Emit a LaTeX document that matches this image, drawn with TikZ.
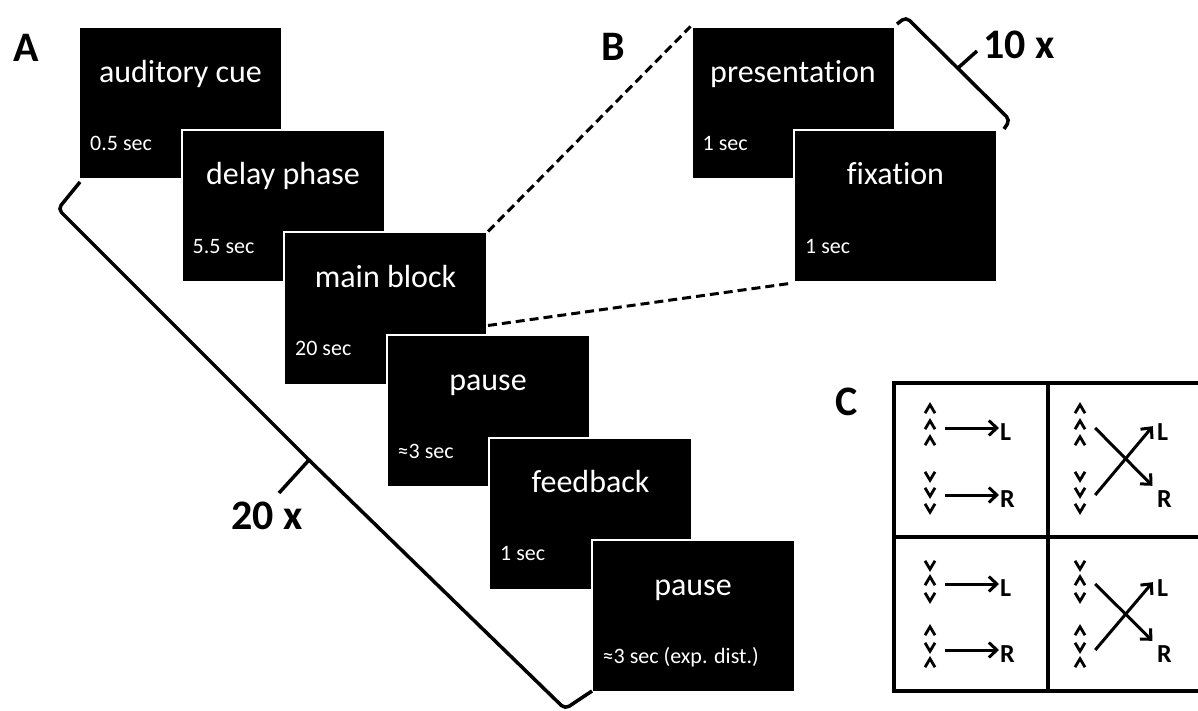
\documentclass[tikz,border=0pt]{standalone}
\usepackage{fontspec}
\setmainfont[Ligatures=NoCommon]{Carlito}
\usetikzlibrary{arrows.meta,positioning,calc}

\tikzset{
  screen/.style={fill=black, draw=white, line width=2pt, minimum width=203pt, minimum height=152pt, inner sep=0pt},
  title/.style={text=white, font=\fontsize{32}{38}\selectfont, anchor=base, inner sep=0pt},
  dur/.style={text=white, font=\fontsize{22}{26}\selectfont, anchor=base west, inner sep=0pt},
  panel/.style={font=\fontsize{42}{50}\selectfont\bfseries, inner sep=0pt},
  resp/.style={font=\fontsize{26}{30}\selectfont\bfseries, inner sep=1pt, anchor=west},
  stack/.style={minimum width=30pt, minimum height=44pt, inner sep=0pt},
  chevline/.style={line width=2.8pt},
  chev/.pic={\draw[chevline] (-5,{4.2*(#1)}) -- (0,{-4.2*(#1)}) -- (5,{4.2*(#1)});},
  link/.style={line width=3pt, -{Straight Barb[length=8pt,width=15pt]}},
  zoomline/.style={line width=3pt, dash pattern=on 9pt off 5pt},
  bracket/.style={line width=3.5pt, rounded corners=5pt},
  cellline/.style={line width=3.5pt}
}

\begin{document}
\begin{tikzpicture}[x=1pt, y=-1pt]
  \useasboundingbox (0,0) rectangle (1198,711);

  \foreach \nm/\ttl/\dur [count=\i from 0] in {cue/auditory cue/0.5 sec, delay/delay phase/5.5 sec, main/main block/20 sec, pausea/pause/≈3 sec, feedback/feedback/1 sec, pauseb/pause/≈3 sec (exp. dist.)} {
    \node[screen] (\nm) at (180.5+102.5*\i, 103.5+102.5*\i) {};
    \node[title] (\nm-t) at ($(\nm.north)+(0,56)$) {\ttl};
    \node[dur] (\nm-d) at ($(\nm.south west)+(12,-30)$) {\dur};
  }

  \foreach \nm/\ttl [count=\i from 0] in {pres/presentation, fix/fixation} {
    \node[screen] (\nm) at (793+102.5*\i, 103.5+102.5*\i) {};
    \node[title] (\nm-t) at ($(\nm.north)+(0,56)$) {\ttl};
    \node[dur] (\nm-d) at ($(\nm.south west)+(12,-30)$) {1 sec};
  }

  \coordinate (mainexit) at ($(main.north east)+(0,94)$);
  \draw[zoomline] (main.north east) -- (pres.north west);
  \draw[zoomline] (mainexit) -- (fix.south west);

  \draw[bracket] (80,182) -- (58,209) -- (309,460) -- (565,709) -- (592,691);
  \draw[bracket] (309,460) -- (279,493);
  \draw[bracket] (897,24) -- (906,17) -- (1010,120) -- (1004,129);
  \draw[bracket] (958,68) -- (977,51);

  \node[panel] (labA) at (26,48) {A};
  \node[panel] (labB) at (613,47) {B};
  \node[panel] (labC) at (847,402) {C};
  \node[panel] (rep20) at (267,516) {20 x};
  \node[panel] (rep10) at (1019,45) {10 x};

  \draw[cellline] (1205,383) -| (894,691) -- (1205,691);
  \draw[cellline] (894,537) -- (1205,537);
  \draw[cellline] (1048,383) -- (1048,691);

  \foreach \cell/\cx/\lx in {a/930/999, b/1080/1156} {
    \foreach \row/\y/\ta/\tb/\tc in {1/428/1/1/1, 2/495/-1/-1/-1, 3/584/-1/1/-1, 4/650/1/-1/1} {
      \node[stack] (s\cell\row) at (\cx,\y) {};
      \pic at (\cx,\y-19) {chev=\ta};
      \pic at (\cx,\y-3) {chev=\tb};
      \pic at (\cx,\y+13) {chev=\tc};
    }
    \node[resp] (L\cell1) at (\lx,432) {L};
    \node[resp] (R\cell2) at (\lx,499) {R};
    \node[resp] (L\cell3) at (\lx,588) {L};
    \node[resp] (R\cell4) at (\lx,654) {R};
  }

  \draw[link] (sa1.east) -- (sa1.east -| La1.west);
  \draw[link] (sa2.east) -- (sa2.east -| Ra2.west);
  \draw[link] (sa3.east) -- (sa3.east -| La3.west);
  \draw[link] (sa4.east) -- (sa4.east -| Ra4.west);
  \draw[link, shorten >=5pt] (sb1.east) -- (Rb2.north west);
  \draw[link, shorten >=5pt] (sb2.east) -- (Lb1.north west);
  \draw[link, shorten >=5pt] (sb3.east) -- (Rb4.north west);
  \draw[link, shorten >=5pt] (sb4.east) -- (Lb3.north west);
\end{tikzpicture}
\end{document}
